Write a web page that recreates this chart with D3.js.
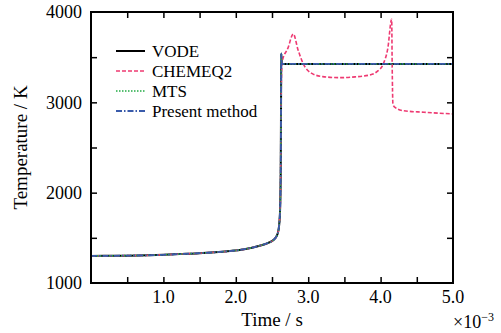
<!DOCTYPE html>
<html>
<head>
<meta charset="utf-8">
<script src="https://cdn.jsdelivr.net/npm/d3@7"></script>
<style>
  body { margin: 0; background: #fff; }
  svg text { font-family: 'Liberation Serif', 'Times New Roman', serif; fill: #000; }
</style>
</head>
<body>
<svg id="chart"></svg>
<script>
const graphWidth = 501;
const graphHeight = 333;

// time in units of 1e-3 s
const timeBase = [0, 0.5, 1.0, 1.23, 1.5, 1.92, 2.1, 2.33, 2.45, 2.52, 2.57, 2.59, 2.61, 2.62, 2.625, 2.628, 2.635, 2.65, 3.0, 4.0, 5.0];
const tempBase = [1300, 1303, 1312, 1320, 1330, 1354, 1372, 1413, 1445, 1476, 1530, 1587, 1775, 2200, 3000, 3540, 3425, 3425, 3425, 3425, 3425];

const timeChemeq = [0, 0.5, 1.0, 1.23, 1.5, 1.92, 2.1, 2.33, 2.45, 2.52, 2.57, 2.59, 2.61, 2.62, 2.625, 2.64, 2.72, 2.794, 2.86, 2.93, 3.05, 3.2, 3.44, 3.65, 3.85, 3.95, 4.04, 4.1, 4.153, 4.16, 4.17, 4.19, 4.31, 4.6, 5.0];
const tempChemeq = [1300, 1303, 1312, 1320, 1330, 1354, 1372, 1413, 1445, 1476, 1530, 1587, 1775, 2200, 3000, 3450, 3600, 3757, 3580, 3430, 3320, 3285, 3273, 3282, 3303, 3340, 3430, 3600, 3920, 3400, 2985, 2950, 2908, 2890, 2872];

const seriesNames = ['VODE', 'CHEMEQ2', 'MTS', 'Present method'];
const xTicks = [1.0, 2.0, 3.0, 4.0, 5.0];
const yTicks = [1000, 2000, 3000, 4000];

const margin = { top: 12, right: 48, bottom: 50, left: 91 };
const width = graphWidth - margin.left - margin.right;
const height = graphHeight - margin.top - margin.bottom;

const svg = d3
  .select('#chart')
  .attr('width', graphWidth)
  .attr('height', graphHeight);

const g = svg.append('g').attr('transform', 'translate(' + margin.left + ',' + margin.top + ')');

const x = d3.scaleLinear().domain([0, 5]).range([0, width]);
const y = d3.scaleLinear().domain([1000, 4000]).range([height, 0]);

const baseData = timeBase.map((t, i) => ({ t: t, v: tempBase[i] }));
const chemData = timeChemeq.map((t, i) => ({ t: t, v: tempChemeq[i] }));

const line = d3
  .line()
  .x(d => x(d.t))
  .y(d => y(d.v))
  .curve(d3.curveMonotoneX);

const styles = [
  { color: '#000000', dash: null, w: 2 },
  { color: '#ee3a72', dash: '4,2', w: 1.6 },
  { color: '#22aa44', dash: '1.5,1.5', w: 1.6 },
  { color: '#3a5bab', dash: '6,2,1.5,2', w: 1.8 }
];
const seriesData = [baseData, chemData, baseData, baseData];

g.append('defs').append('clipPath').attr('id', 'clip')
  .append('rect').attr('width', width).attr('height', height);

const lines = g.append('g').attr('clip-path', 'url(#clip)');
seriesData.forEach((d, i) => {
  lines
    .append('path')
    .datum(d)
    .attr('d', line)
    .attr('fill', 'none')
    .attr('stroke', styles[i].color)
    .attr('stroke-width', styles[i].w)
    .attr('stroke-dasharray', styles[i].dash);
});

//Axes with inward ticks on all sides
const minorX = d3.range(0.5, 5, 0.5);
const minorY = d3.range(1500, 4000, 500);

g.append('g')
  .attr('transform', 'translate(0,' + height + ')')
  .call(d3.axisBottom(x).tickValues(minorX).tickSize(-6).tickFormat(''))
  .call(a => a.select('.domain').remove());
g.append('g')
  .call(d3.axisTop(x).tickValues(minorX).tickSize(-6).tickFormat(''))
  .call(a => a.select('.domain').remove());
g.append('g')
  .call(d3.axisLeft(y).tickValues(minorY).tickSize(-6).tickFormat(''))
  .call(a => a.select('.domain').remove());
g.append('g')
  .attr('transform', 'translate(' + width + ',0)')
  .call(d3.axisRight(y).tickValues(minorY).tickSize(-6).tickFormat(''))
  .call(a => a.select('.domain').remove());
g.selectAll('.tick line').attr('stroke', '#000').attr('stroke-width', 1.5);

g.append('rect')
  .attr('width', width)
  .attr('height', height)
  .attr('fill', 'none')
  .attr('stroke', '#000')
  .attr('stroke-width', 2);

// tick labels
g.selectAll('text.xlab')
  .data(xTicks)
  .enter()
  .append('text')
  .attr('class', 'xlab')
  .attr('x', d => x(d))
  .attr('y', height + 20)
  .attr('text-anchor', 'middle')
  .style('font-size', '18px')
  .text(d => d.toFixed(1));

g.selectAll('text.ylab')
  .data(yTicks)
  .enter()
  .append('text')
  .attr('class', 'ylab')
  .attr('x', -9)
  .attr('y', d => y(d))
  .attr('dy', '0.35em')
  .attr('text-anchor', 'end')
  .style('font-size', '18px')
  .text(d => d);

g.append('text')
  .attr('x', width / 2)
  .attr('y', height + 43)
  .attr('text-anchor', 'middle')
  .style('font-size', '19px')
  .text('Time / s');

const expo = g.append('text')
  .attr('x', width)
  .attr('y', height + 45)
  .style('font-size', '18px');
expo.append('tspan').text('×10');
expo.append('tspan').attr('dy', -7).style('font-size', '12px').text('−3');

g.append('text')
  .attr('transform', 'rotate(-90)')
  .attr('x', -height / 2)
  .attr('y', -64)
  .attr('text-anchor', 'middle')
  .style('font-size', '19px')
  .text('Temperature / K');

// legend
const legend = g.append('g').attr('transform', 'translate(25,39)');
seriesNames.forEach((name, i) => {
  const row = legend.append('g').attr('transform', 'translate(0,' + i * 20 + ')');
  row.append('line')
    .attr('x1', 0)
    .attr('x2', 29)
    .attr('stroke', styles[i].color)
    .attr('stroke-width', styles[i].w)
    .attr('stroke-dasharray', styles[i].dash);
  row.append('text')
    .attr('x', 36)
    .attr('dy', '0.35em')
    .style('font-size', '17px')
    .text(name);
});
</script>
</body>
</html>
